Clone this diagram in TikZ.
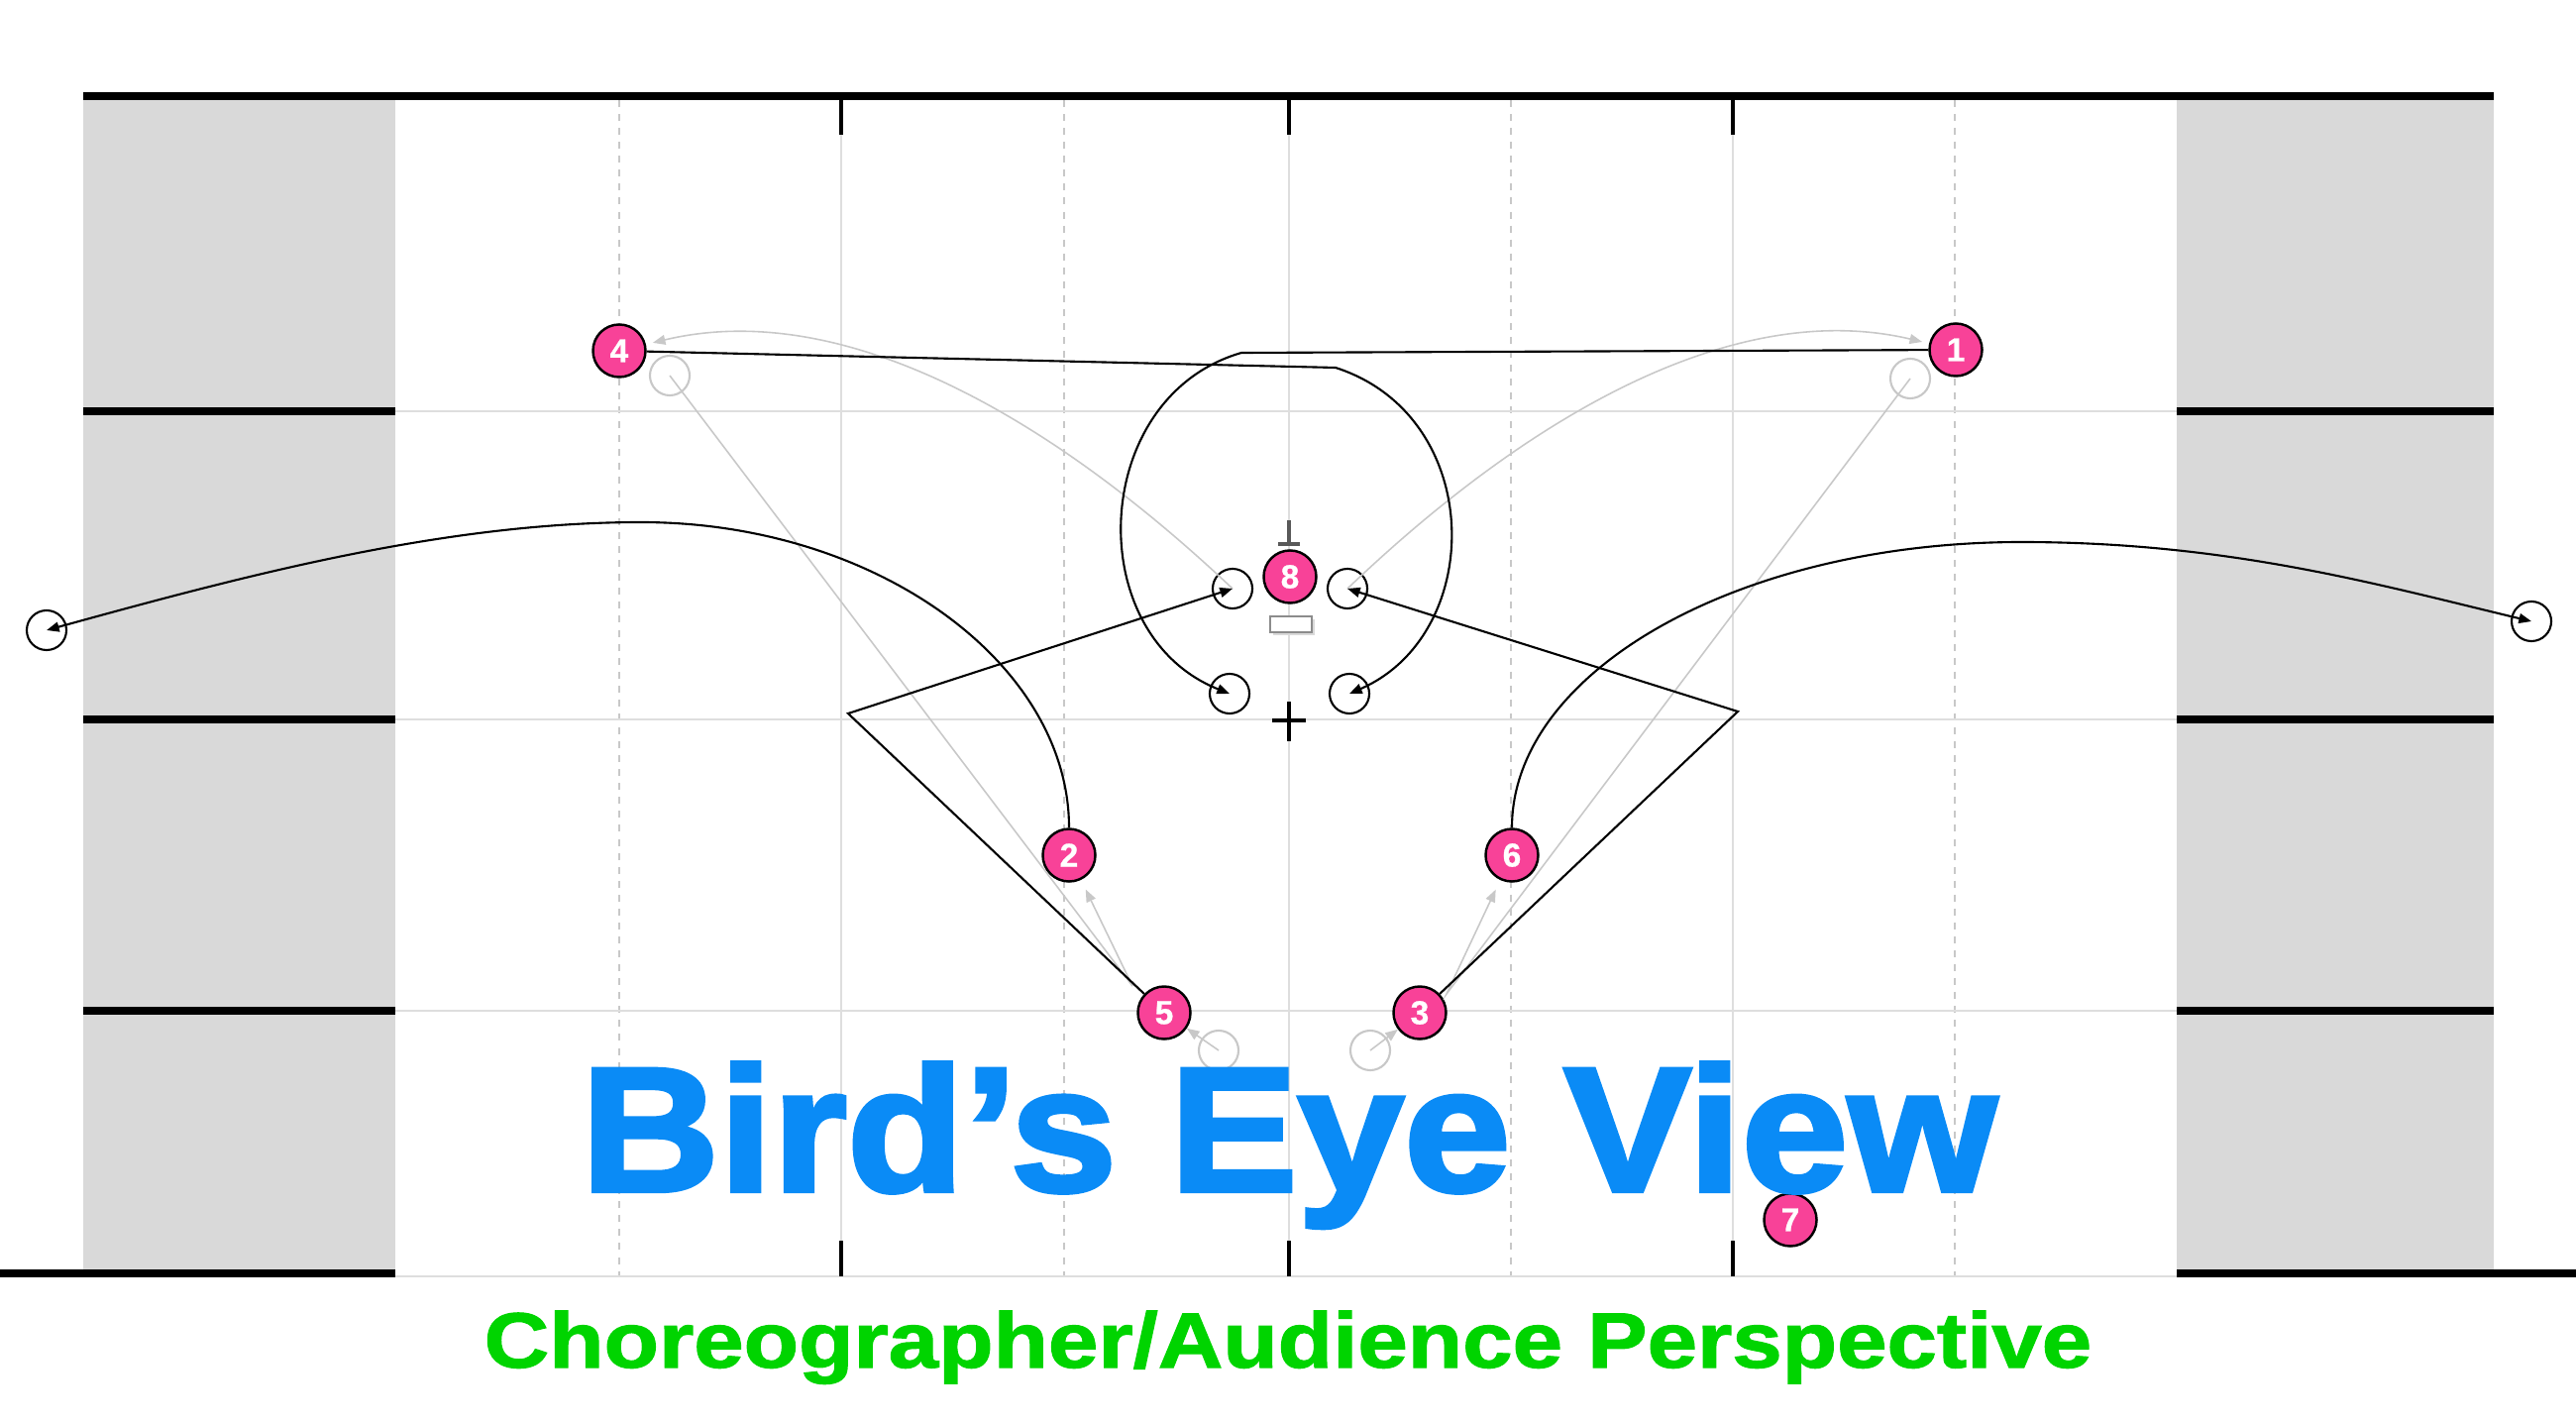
\documentclass[tikz,border=0pt]{standalone}
\usepackage{fontspec}
\setmainfont{Liberation Sans}
\newfontfamily\headfont[FakeBold=2.4]{Liberation Sans Bold}
\newfontfamily\subfont[FakeBold=1.4]{Liberation Sans Bold}
\newfontfamily\numfont[FakeBold=0.8]{Liberation Sans Bold}
\usepackage{tikz}
\usetikzlibrary{arrows.meta}
\usetikzlibrary{calc}
\definecolor{dancerpink}{RGB}{248,66,152}
\definecolor{titleblue}{RGB}{10,139,246}
\definecolor{subgreen}{RGB}{0,212,0}
\definecolor{wingfill}{RGB}{217,217,217}
\definecolor{gridline}{RGB}{222,222,222}
\definecolor{oldpath}{RGB}{200,200,200}
\tikzset{
  dancer/.style={circle,draw=black,line width=0.7pt,fill=dancerpink,minimum size=0.53cm,inner sep=0pt,text=white,font=\numfont\fontsize{9.5}{9.5}\selectfont},
  spot/.style={circle,draw=black,line width=0.6pt,minimum size=0.4cm,inner sep=0pt},
  oldspot/.style={circle,draw=oldpath,line width=0.6pt,minimum size=0.4cm,inner sep=0pt},
  move/.style={line width=0.6pt,-{Triangle[length=3.6pt,width=2.8pt]}},
  oldmove/.style={oldpath,line width=0.45pt,-{Triangle[length=3.6pt,width=2.8pt]}},
  border/.style={line width=2pt}
}

\begin{document}
\begin{tikzpicture}[x=0.01cm,y=-0.01cm]
			\useasboundingbox (0,0) rectangle (2600,1437);
			%wings
			\fill[wingfill] (84,101) rectangle (399,1285);
			\fill[wingfill] (2197,101) rectangle (2517,1285);
			%stage grid
			\foreach \gx in {625,1074,1525,1973}
				\draw[oldpath,line width=0.35pt,dash pattern=on 2pt off 2pt] (\gx,101)--(\gx,1288);
			\foreach \gx in {849,1301,1749}
				\draw[gridline,line width=0.6pt] (\gx,101)--(\gx,1288);
			\foreach \gy in {415,726,1020,1288}
				\draw[gridline,line width=0.6pt] (399,\gy)--(2197,\gy);
			%stage borders and ticks
			\draw[border] (84,97)--(2517,97);
			\foreach \gy in {415,726,1020}{
				\draw[border] (84,\gy)--(399,\gy);
				\draw[border] (2197,\gy)--(2517,\gy);
			}
			\draw[border] (0,1285)--(399,1285);
			\draw[border] (2197,1285)--(2600,1285);
			\foreach \gx in {849,1301,1749}{
				\draw[line width=1pt] (\gx,97)--(\gx,136);
				\draw[line width=1pt] (\gx,1252)--(\gx,1288);
			}
			%centre marks
			\draw[line width=1pt] (1284,727)--(1318,727) (1301,708)--(1301,748);
			\draw[black!65,line width=1.2pt] (1301,525)--(1301,549) (1290,549)--(1312,549);
			\fill[black!15] (1285,625) rectangle (1327,641);
			\draw[black!45,line width=0.7pt,fill=white] (1282,622) rectangle (1324,638);
			%dancers
			\node[dancer] (d1) at (1974,353) {1};
			\node[dancer] (d2) at (1079,863) {2};
			\node[dancer] (d3) at (1433,1022) {3};
			\node[dancer] (d4) at (625,354) {4};
			\node[dancer] (d5) at (1175,1022) {5};
			\node[dancer] (d6) at (1526,863) {6};
			\node[dancer] (d7) at (1807,1231) {7};
			\node[dancer] (d8) at (1302,582) {8};
			%target spots
			\node[spot] (ul) at (1244,594) {};
			\node[spot] (ur) at (1360,594) {};
			\node[spot] (ll) at (1241,700) {};
			\node[spot] (lr) at (1362,700) {};
			\node[spot] (farl) at (47,636) {};
			\node[spot] (farr) at (2555,627) {};
			%previous spots
			\node[oldspot] (o4) at (676,379) {};
			\node[oldspot] (o1) at (1928,382) {};
			\node[oldspot] (o5) at (1230,1060) {};
			\node[oldspot] (o3) at (1383,1060) {};
			%bends
			\coordinate (bendL) at (856,720);
			\coordinate (bendR) at (1754,718);
			\coordinate (loopL) at (1253,356);
			\coordinate (loopR) at (1348,371);
			\coordinate (peakL) at (647,527);
			\coordinate (peakR) at (2040,547);
			\coordinate (turnL) at (1143,995);
			\coordinate (turnR) at (1460,1003);
			%previous moves
			\draw[oldmove,shorten >=3pt] (o4.center)--(turnL)--(d2);
			\draw[oldmove,shorten >=3pt] (o1.center)--(turnR)--(d6);
			\draw[oldmove,shorten >=2pt] (ul.center) .. controls (1060,420) and (850,300) .. (d4);
			\draw[oldmove,shorten >=2pt] (ur.center) .. controls (1542,420) and (1750,300) .. (d1);
			\draw[oldmove] (o5.center)--(d5);
			\draw[oldmove] (o3.center)--(d3);
			%current moves
			\draw[move] (d4)--(loopR) .. controls (1500,420) and (1500,640) .. (lr.center);
			\draw[move] (d1)--(loopL) .. controls (1100,400) and (1090,640) .. (ll.center);
			\draw[move] (d2) .. controls (1079,670) and (885,527) .. (peakL) .. controls (450,527) and (250,580) .. (farl.center);
			\draw[move] (d6) .. controls (1526,677) and (1756,547) .. (peakR) .. controls (2250,547) and (2400,590) .. (farr.center);
			\draw[move] (d5)--(bendL)--(ul.center);
			\draw[move] (d3)--(bendR)--(ur.center);
			%titles
			\node[anchor=base,text=titleblue,font=\headfont\fontsize{50.9}{51}\selectfont] (title) at (1301,1202) {\scalebox{1.08}[1]{Bird’s Eye View}};
			\node[anchor=base,text=subgreen,font=\subfont\fontsize{22.5}{23}\selectfont] (subtitle) at (1300,1380) {\scalebox{1.146}[1]{Choreographer/Audience Perspective}};
		\end{tikzpicture}
\end{document}
